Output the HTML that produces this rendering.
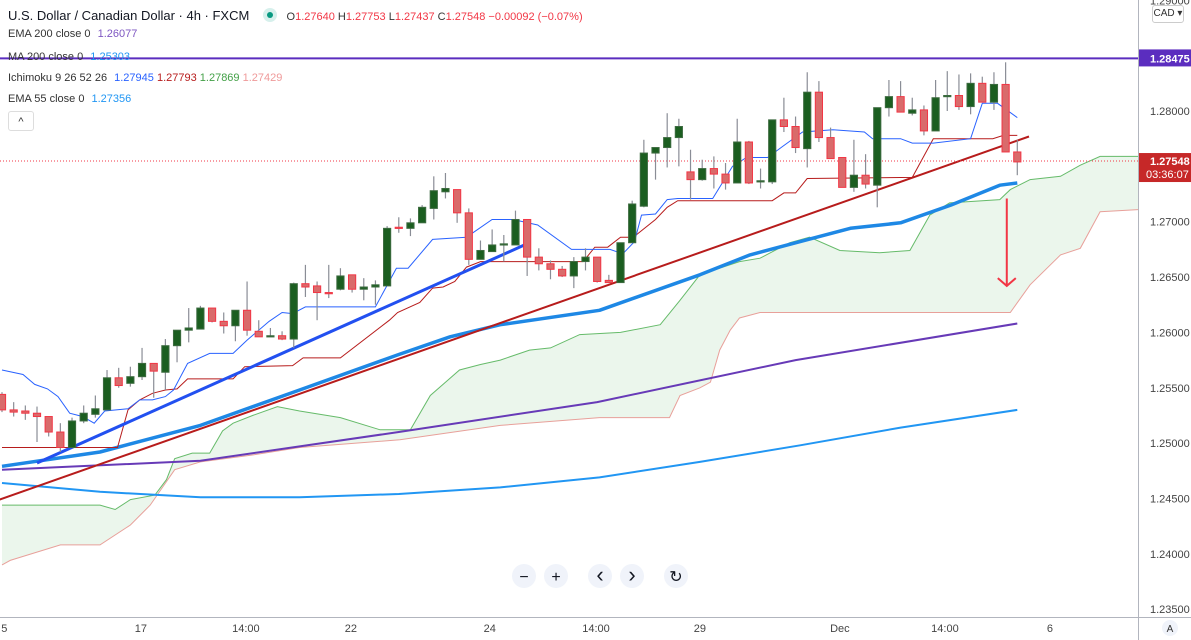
<!DOCTYPE html>
<html><head><meta charset="utf-8">
<style>
body{margin:0;background:#fff;font-family:"Liberation Sans",sans-serif;}
svg{display:block}
.hdr{position:absolute;left:8px;font-size:11px;color:#333;white-space:nowrap}
</style></head>
<body>
<div style="position:relative;width:1191px;height:640px;overflow:hidden">
<svg id="c" width="1191" height="640"></svg>
<div class="hdr" style="top:8px;font-size:13px;color:#131722">U.S. Dollar / Canadian Dollar · 4h · FXCM <span style="display:inline-block;width:14px;height:14px;border-radius:50%;background:#d6f0ec;vertical-align:-2px;margin:0 6px 0 10px;position:relative"><span style="position:absolute;left:4px;top:4px;width:6px;height:6px;border-radius:50%;background:#089981"></span></span> <span style="font-size:11px;color:#333">O<span style="color:#f23645">1.27640</span> H<span style="color:#f23645">1.27753</span> L<span style="color:#f23645">1.27437</span> C<span style="color:#f23645">1.27548</span> <span style="color:#f23645">−0.00092 (−0.07%)</span></span></div>
<div class="hdr" style="top:28px">EMA 200 close 0 <span style="color:#7e57c2;margin-left:4px">1.26077</span></div>
<div class="hdr" style="top:51px">MA 200 close 0 <span style="color:#2196f3;margin-left:4px">1.25303</span></div>
<div class="hdr" style="top:72px">Ichimoku 9 26 52 26 <span style="color:#2962ff;margin-left:4px">1.27945</span> <span style="color:#b71c1c">1.27793</span> <span style="color:#43a047">1.27869</span> <span style="color:#ef9a9a">1.27429</span></div>
<div class="hdr" style="top:93px">EMA 55 close 0 <span style="color:#2196f3;margin-left:4px">1.27356</span></div>
<div style="position:absolute;left:8px;top:111px;width:24px;height:18px;border:1px solid #ddd;border-radius:3px;background:#fff;font-size:11px;text-align:center;line-height:20px;color:#333">^</div>
<div style="position:absolute;left:1152px;top:5px;width:30px;height:16px;border:1px solid #ccc;border-radius:3px;background:#fff;font-size:10px;text-align:center;line-height:16px;color:#333">CAD ▾</div>
</div>
<script>
const candleO=[1.2544,1.2530,1.2529,1.2527,1.2524,1.2510,1.2496,1.2520,1.2526,1.2530,1.2559,1.2554,1.2560,1.2572,1.2564,1.2588,1.2602,1.2603,1.2622,1.2610,1.2606,1.2620,1.2601,1.2596,1.2597,1.2594,1.2644,1.2642,1.2636,1.2639,1.2652,1.2639,1.2641,1.2642,1.2695,1.2694,1.2699,1.2712,1.2727,1.2729,1.2708,1.2666,1.2673,1.2679,1.2679,1.2702,1.2668,1.2662,1.2657,1.2651,1.2664,1.2668,1.2647,1.2645,1.2681,1.2714,1.2762,1.2767,1.2776,1.2745,1.2738,1.2748,1.2743,1.2735,1.2772,1.2736,1.2736,1.2792,1.2786,1.2766,1.2817,1.2776,1.2758,1.2731,1.2742,1.2733,1.2803,1.2813,1.2798,1.2801,1.2782,1.2813,1.2814,1.2804,1.2825,1.2808,1.2824,1.2763];
const candleH=[1.2546,1.2537,1.2534,1.2533,1.2524,1.2518,1.2523,1.2534,1.2543,1.2566,1.2568,1.2569,1.2586,1.2572,1.2594,1.2602,1.2622,1.2624,1.2622,1.2618,1.2620,1.2646,1.2611,1.2604,1.2601,1.2645,1.2661,1.2646,1.2661,1.2658,1.2652,1.2649,1.2647,1.2696,1.2704,1.2703,1.2715,1.2741,1.2744,1.2729,1.2712,1.2683,1.2693,1.2688,1.2710,1.2702,1.2676,1.2665,1.2660,1.2668,1.2676,1.2668,1.2652,1.2681,1.2719,1.2774,1.2767,1.2798,1.2793,1.2765,1.2756,1.2759,1.2753,1.2793,1.2773,1.2748,1.2792,1.2812,1.2795,1.2835,1.2827,1.2785,1.2758,1.2774,1.2761,1.2803,1.2828,1.2827,1.2812,1.2805,1.2828,1.2836,1.2833,1.2834,1.2831,1.2835,1.2844,1.2774];
const candleL=[1.2528,1.2524,1.2521,1.2501,1.2506,1.2492,1.2496,1.2518,1.2523,1.2530,1.2550,1.2551,1.2557,1.2541,1.2548,1.2573,1.2591,1.2603,1.2609,1.2599,1.2592,1.2597,1.2596,1.2596,1.2593,1.2586,1.2632,1.2611,1.2631,1.2638,1.2636,1.2629,1.2625,1.2642,1.2690,1.2687,1.2699,1.2702,1.2721,1.2699,1.2661,1.2666,1.2673,1.2664,1.2679,1.2651,1.2656,1.2648,1.2650,1.2640,1.2656,1.2645,1.2645,1.2645,1.2681,1.2713,1.2738,1.2749,1.2750,1.2720,1.2737,1.2730,1.2729,1.2735,1.2734,1.2730,1.2734,1.2781,1.2762,1.2749,1.2772,1.2757,1.2731,1.2727,1.2730,1.2713,1.2795,1.2799,1.2796,1.2778,1.2782,1.2800,1.2801,1.2797,1.2808,1.2801,1.2763,1.2742];
const candleC=[1.2530,1.2528,1.2527,1.2524,1.2510,1.2496,1.2520,1.2527,1.2531,1.2559,1.2552,1.2560,1.2572,1.2565,1.2588,1.2602,1.2604,1.2622,1.2610,1.2606,1.2620,1.2602,1.2596,1.2597,1.2594,1.2644,1.2641,1.2636,1.2635,1.2651,1.2639,1.2641,1.2643,1.2694,1.2694,1.2699,1.2713,1.2728,1.2730,1.2708,1.2666,1.2674,1.2679,1.2680,1.2702,1.2668,1.2662,1.2657,1.2651,1.2664,1.2668,1.2646,1.2645,1.2681,1.2716,1.2762,1.2767,1.2776,1.2786,1.2738,1.2748,1.2743,1.2735,1.2772,1.2735,1.2737,1.2792,1.2786,1.2767,1.2817,1.2776,1.2757,1.2731,1.2742,1.2734,1.2803,1.2813,1.2799,1.2801,1.2782,1.2812,1.2814,1.2804,1.2825,1.2808,1.2824,1.2763,1.2754];

const ema200Idx=[0,17,34,51,68,87];
const ema200Val=[1.2476,1.2484,1.2510,1.2537,1.2575,1.2608];
const ma200Idx=[0,8.4,17,25.5,34,42.7,51.2,59.8,68.4,77,87];
const ma200Val=[1.2464,1.2456,1.2451,1.2451,1.2454,1.2460,1.2469,1.2483,1.2498,1.2514,1.2530];
const ema55Idx=[0,8.4,17,25.5,34,38.4,42.7,51.2,59.8,64.1,68.4,72.7,77,81.3,85.5,87];
const ema55Val=[1.2479,1.2492,1.2516,1.2548,1.2580,1.2596,1.2607,1.2620,1.2652,1.2670,1.2682,1.2694,1.2699,1.2715,1.2733,1.2735];
const tenkanIdx=[0,1.8,2.8,3.9,4.8,5.8,6.9,7.9,8.8,10.8,11.8,12.9,14,14.7,15.9,17.8,19.8,21,22.9,24,24.9,26,32,33.8,34.8,36.9,39.8,42,43.8,45.9,48.8,52.1,53.2,54.2,54.8,56,57,57.9,60.9,62.6,63.8,65.6,66.9,68.6,71.2,73.9,74.6,77,78,79.8,83,84,85.3,87];
const tenkanVal=[1.2566,1.2562,1.2553,1.2549,1.2542,1.2527,1.2524,1.2518,1.2529,1.2531,1.2539,1.2539,1.2542,1.2548,1.2572,1.2581,1.2581,1.2593,1.2610,1.2618,1.2617,1.2623,1.2623,1.2658,1.2658,1.2684,1.2686,1.2702,1.2702,1.2697,1.2675,1.2675,1.2671,1.2682,1.2706,1.2707,1.2720,1.2721,1.2721,1.2750,1.2758,1.2758,1.2768,1.2781,1.2783,1.2781,1.2775,1.2775,1.2771,1.2771,1.2775,1.2807,1.2807,1.2794];
const kijunIdx=[0,9.9,10.8,11.8,12.9,14,15,15.9,19.8,20.8,24.9,25.8,29,33.2,33.9,35.8,36.9,37.8,38.8,39.8,41,49.8,50.8,51.9,53,54.1,56,57,57.9,66,67,68,69,78,79.8,84.9,85.8,87];
const kijunVal=[1.2496,1.2496,1.2530,1.2539,1.2545,1.2548,1.2549,1.2558,1.2558,1.2569,1.2570,1.2577,1.2577,1.2611,1.2618,1.2627,1.2640,1.2641,1.2646,1.2659,1.2664,1.2664,1.2677,1.2677,1.2686,1.2686,1.2702,1.2713,1.2719,1.2719,1.2726,1.2726,1.2739,1.2740,1.2775,1.2775,1.2778,1.2778];
const spanAIdx=[0,8.4,9.7,11,13.1,14.1,14.8,16.3,17.8,18.9,19.8,21.5,23.6,25.5,29,32.4,35,36.7,39.2,41,42.7,45.2,47,49.5,53,56.4,58.1,59.8,61.5,63.2,64.95,67.5,69.2,71.8,75.2,77.8,79.5,81.2,85.5,86.4,88.1,90.7,92.4,94.1,97.5];
const spanAVal=[1.2444,1.2444,1.2440,1.2449,1.2453,1.2467,1.2486,1.2491,1.2491,1.2511,1.2518,1.2525,1.2533,1.2529,1.2523,1.2512,1.2512,1.2543,1.2566,1.2571,1.2575,1.2584,1.2586,1.2598,1.2600,1.2607,1.2629,1.2652,1.2658,1.2664,1.2667,1.2681,1.2686,1.2674,1.2672,1.2674,1.2706,1.2717,1.2720,1.2729,1.2738,1.2741,1.2751,1.2759,1.2759];
const spanBIdx=[0,0.7,5,8.4,11,12.7,14.8,17,21.3,25.5,34.1,42.7,51.2,57.2,58.1,59.8,60.7,61.5,62.4,63.2,64.95,86.4,88.1,90.7,92.4,94.1,97.5];
const spanBVal=[1.2390,1.2394,1.2408,1.2408,1.2426,1.2444,1.2476,1.2483,1.2489,1.2496,1.2503,1.2516,1.2523,1.2523,1.2543,1.2550,1.2555,1.2584,1.2602,1.2613,1.2618,1.2618,1.2643,1.2670,1.2676,1.2709,1.2711];
const blueTrendIdx=[3,45], blueTrendVal=[1.2482,1.2680];
const redTrendIdx=[-0.2,88], redTrendVal=[1.2449,1.2777];
const resistance=1.28475, lastPrice=1.27548;
const priceTicks=["1.29000","1.28000","1.27000","1.26500","1.26000","1.25500","1.25000","1.24500","1.24000","1.23500"];
const timeLabels=["5","17","14:00","22","24","14:00","29","Dec","14:00","6"];
const timeIdx=[0.2,11.9,20.9,29.9,41.8,50.9,59.8,71.8,80.8,89.8];

const NS="http://www.w3.org/2000/svg";
const svg=document.getElementById('c');
const xOf=i=>2+i*11.67;
const yOf=p=>111+(1.28-p)*11070;
function mk(tag,attrs,parent){const e=document.createElementNS(NS,tag);for(const k in attrs)e.setAttribute(k,attrs[k]);(parent||svg).appendChild(e);return e;}
const defs=mk('defs',{});
const cp=mk('clipPath',{id:'clip'},defs);mk('rect',{x:0,y:0,width:1138,height:617},cp);
const g=mk('g',{'clip-path':'url(#clip)'});


function pts(idx,val){return idx.map((i,k)=>xOf(i).toFixed(1)+','+yOf(val[k]).toFixed(1)).join(' ');}
// cloud
const cloudPts=pts(spanAIdx,spanAVal)+' '+spanBIdx.map((i,k)=>[i,spanBVal[k]]).reverse().map(d=>xOf(d[0]).toFixed(1)+','+yOf(d[1]).toFixed(1)).join(' ');
let e=mk('polygon',{points:cloudPts,fill:'rgba(76,175,80,0.11)'},g);


e=mk('polyline',{points:pts(spanAIdx,spanAVal),fill:'none',stroke:'#66bb6a',"stroke-width":1},g);


e=mk('polyline',{points:pts(spanBIdx,spanBVal),fill:'none',stroke:'#e8a09a',"stroke-width":1},g);


e=mk('polyline',{points:pts(ma200Idx,ma200Val),fill:'none',stroke:'#2196f3',"stroke-width":2},g);


e=mk('polyline',{points:pts(ema200Idx,ema200Val),fill:'none',stroke:'#673ab7',"stroke-width":2},g);


e=mk('polyline',{points:pts(ema55Idx,ema55Val),fill:'none',stroke:'#1e88e5',"stroke-width":3.5,"stroke-linejoin":'round'},g);


e=mk('polyline',{points:pts(redTrendIdx,redTrendVal),fill:'none',stroke:'#b71c1c',"stroke-width":2},g);


e=mk('polyline',{points:pts(kijunIdx,kijunVal),fill:'none',stroke:'#b71c1c',"stroke-width":1},g);


e=mk('polyline',{points:pts(tenkanIdx,tenkanVal),fill:'none',stroke:'#2962ff',"stroke-width":1},g);


e=mk('polyline',{points:pts(blueTrendIdx,blueTrendVal),fill:'none',stroke:'#2250f0',"stroke-width":3},g);


// dotted last price line
e=mk('line',{x1:0,x2:1138,y1:yOf(lastPrice),y2:yOf(lastPrice),stroke:'#f23645',"stroke-width":1,"stroke-dasharray":'1 2'},g);


// candles
for(let i=0;i<candleO.length;i++){
  const x=xOf(i),up=candleC[i]>=candleO[i];
  const cg=mk('g',{},g);
  
  
  mk('line',{x1:x,x2:x,y1:yOf(candleH[i]),y2:yOf(candleL[i]),stroke:'#8a8d96',"stroke-width":1.2},cg);
  const t=yOf(Math.max(candleO[i],candleC[i])),b=yOf(Math.min(candleO[i],candleC[i]));
  mk('rect',{x:x-3.6,y:t,width:7.2,height:Math.max(1.2,b-t),fill:up?'#1b5e20':'#d96b6b',stroke:up?'#3d6b40':'#f23645',"stroke-width":1},cg);
}
// resistance line
e=mk('line',{x1:0,x2:1138,y1:yOf(resistance),y2:yOf(resistance),stroke:'#5b2dbf',"stroke-width":2},g);


// arrow
const ax=xOf(86.1);
const ag=mk('g',{},g);


mk('line',{x1:ax,x2:ax,y1:yOf(1.2721),y2:yOf(1.2642),stroke:'#f23645',"stroke-width":2},ag);
mk('polyline',{points:`${ax-9},${yOf(1.2649)} ${ax},${yOf(1.2642)} ${ax+9},${yOf(1.2649)}`,fill:'none',stroke:'#f23645',"stroke-width":2},ag);
// nav buttons
const nav=[[524,'−'],[556,'+'],[600,'‹'],[632,'›'],[676,'↻']];
nav.forEach(n=>{const bg=mk('g',{});


mk('circle',{cx:n[0],cy:576,r:12,fill:'#f0f3fa'},bg);
const t=mk('text',{x:n[0],y:582,"text-anchor":'middle',"font-size":n[1]=='‹'||n[1]=='›'?22:16,fill:'#131722',"font-family":'Liberation Sans, DejaVu Sans, sans-serif'},bg);t.textContent=n[1];});
// axes
e=mk('line',{x1:1138.5,x2:1138.5,y1:0,y2:640,stroke:'#b2b5be'});


e=mk('line',{x1:0,x2:1191,y1:617.5,y2:617.5,stroke:'#b2b5be'});


priceTicks.forEach(s=>{const t=mk('text',{x:1150,y:yOf(parseFloat(s))+4,"font-size":11,fill:'#444'});


t.textContent=s;});
timeLabels.forEach((s,k)=>{const t=mk('text',{x:xOf(timeIdx[k]),y:632,"font-size":11,fill:'#444',"text-anchor":'middle'});


t.textContent=s;});
// labels
e=mk('rect',{x:1139,y:yOf(resistance)-9,width:52,height:17,fill:'#5b2dbf'});


let t=mk('text',{x:1150,y:yOf(resistance)+4,"font-size":11,"font-weight":'bold',fill:'#fff'});t.textContent=resistance.toFixed(5);
e=mk('rect',{x:1139,y:yOf(lastPrice)-8,width:52,height:29,fill:'#c62828'});


t=mk('text',{x:1150,y:yOf(lastPrice)+4,"font-size":11,"font-weight":'bold',fill:'#fff'});t.textContent=lastPrice.toFixed(5);
t=mk('text',{x:1146,y:yOf(lastPrice)+17,"font-size":11,fill:'#fff'});t.textContent='03:36:07';
e=mk('circle',{cx:1170,cy:628,r:8,fill:'#f0f3fa'});


t=mk('text',{x:1170,y:632,"font-size":10,fill:'#333',"text-anchor":'middle'});t.textContent='A';
</script>
</body></html>
